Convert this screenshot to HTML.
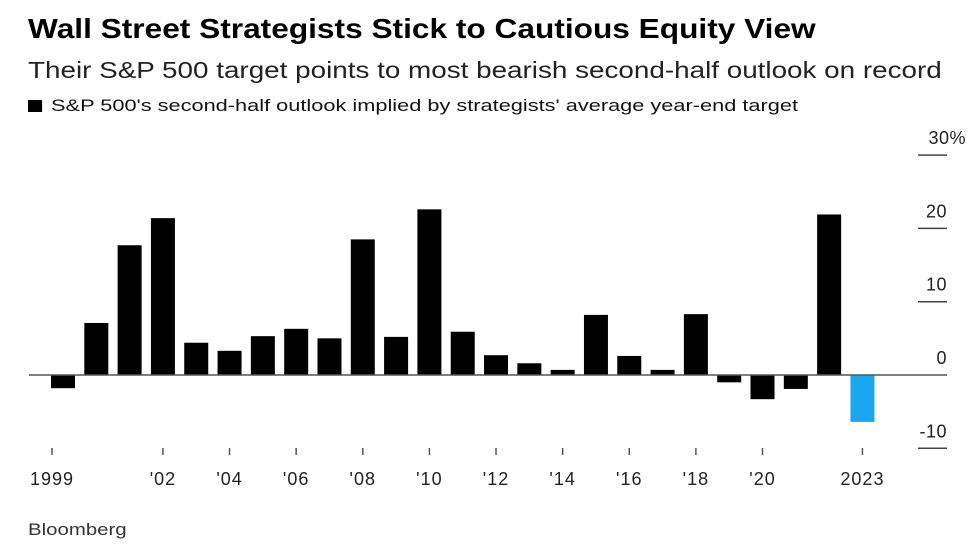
<!DOCTYPE html>
<html><head><meta charset="utf-8"><style>
body{margin:0;background:#fff;width:975px;height:558px;overflow:hidden;font-family:"Liberation Sans",sans-serif;}
.t,.s,.l,.src{position:absolute;transform-origin:0 0;white-space:nowrap}
.t{left:28px;top:13px;font-size:28px;font-weight:bold;color:#000;transform:scaleX(1.13)}
.s{left:28px;top:57px;font-size:23px;color:#222;transform:scaleX(1.21)}
.l{left:28px;top:96px;font-size:17px;color:#111;transform:scaleX(1.28)}
.l span{display:inline-block;width:11px;height:12px;background:#000;margin-right:7px;vertical-align:-1px}
.src{left:28px;top:520px;font-size:17px;color:#333;transform:scaleX(1.2)}
svg{position:absolute;left:0;top:0}
</style></head><body>
<div class="t">Wall Street Strategists Stick to Cautious Equity View</div>
<div class="s">Their S&amp;P 500 target points to most bearish second-half outlook on record</div>
<div class="l"><span></span>S&amp;P 500's second-half outlook implied by strategists' average year-end target</div>
<div class="src">Bloomberg</div>
<svg id="c" width="975" height="558"></svg>
<script>
const years=[1999,2000,2001,2002,2003,2004,2005,2006,2007,2008,2009,2010,2011,2012,2013,2014,2015,2016,2017,2018,2019,2020,2021,2022,2023];
const values=[-1.8,7.1,17.7,21.4,4.4,3.3,5.3,6.3,5.0,18.5,5.2,22.6,5.9,2.7,1.6,0.7,8.2,2.6,0.7,8.3,-1.0,-3.3,-1.9,21.9,-6.4];
const yTicks=[30,20,10,0,-10];
const yTickLabels=["30%","20","10","0","-10"];
const xLabelYears=[1999,2002,2004,2006,2008,2010,2012,2014,2016,2018,2020,2023];
const xLabels=["1999","'02","'04","'06","'08","'10","'12","'14","'16","'18","'20","2023"];
const ns="http://www.w3.org/2000/svg",svg=document.getElementById('c');
const y=v=>375-v*7.33;
const x=yr=>63+(yr-1999)*33.31;
function mk(t,a){const e=document.createElementNS(ns,t);for(const k in a)e.setAttribute(k,a[k]);svg.appendChild(e);return e;}
yTicks.forEach((v,i)=>{
  if(v!==0){const ln=mk('line',{x1:918,x2:947,y1:y(v),y2:y(v),stroke:'#444','stroke-width':1.5});
  
  }
  const tx=mk('text',{x:v===30?966:947,y:y(v)-11,'text-anchor':'end','font-size':18,fill:'#222','letter-spacing':0.5});
  tx.textContent=yTickLabels[i];
  
  
});
years.forEach((yr,i)=>{
  const v=values[i];
  const r=mk('rect',{x:x(yr)-12,width:24,y:Math.min(y(v),y(0)),height:Math.abs(y(v)-y(0)),fill:yr===2023?'#1aa7f0':'#000'});
  
  
});
const z=mk('line',{x1:29,x2:947,y1:y(0),y2:y(0),stroke:'#555','stroke-width':1.5});


xLabelYears.forEach((yr,i)=>{
  const cx=yr===1999?52:x(yr);
  const tk=mk('line',{x1:cx,x2:cx,y1:448,y2:455,stroke:'#555','stroke-width':1.5});
  
  
  const tx=mk('text',{x:cx,y:485,'text-anchor':'middle','font-size':18,fill:'#222','letter-spacing':1});
  tx.textContent=xLabels[i];
  
  
});
</script>
</body></html>
